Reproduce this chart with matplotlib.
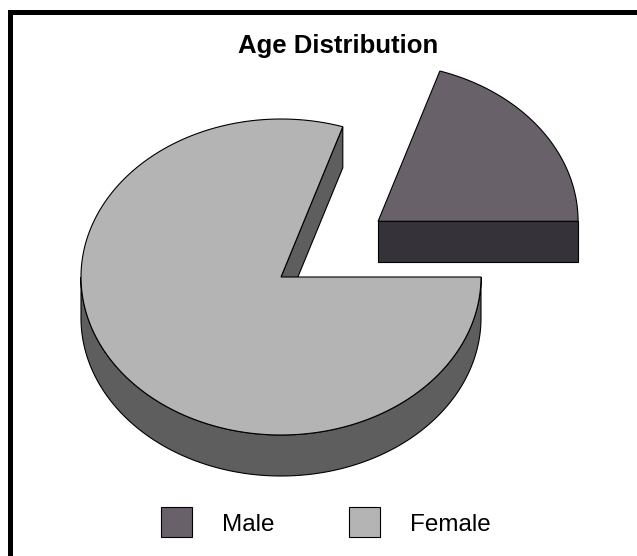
import numpy as np
import matplotlib
matplotlib.use('Agg')
import matplotlib.pyplot as plt
from matplotlib.patches import Polygon, Rectangle

title = "Age Distribution"
labels = ["Male", "Female"]
values = [20, 80]
top_colors = ["#686169", "#b4b4b4"]
side_colors = ["#35323a", "#5e5e5e"]
explode = [0.6, 0.0]

W, H = 637, 556
fig = plt.figure(figsize=(W / 100, H / 100), dpi=100)
ax = fig.add_axes([0, 0, 1, 1])
ax.set_xlim(0, W)
ax.set_ylim(H, 0)
ax.axis('off')

FONT = ['Liberation Sans', 'DejaVu Sans']

cx, cy = 281, 277
rx, ry = 200, 158
depth = 41
lw = 0.8


def pt(c, t):
    r = np.radians(t)
    return (c[0] + rx * np.cos(r), c[1] - ry * np.sin(r))


def arc(c, t0, t1, n=200):
    ts = np.linspace(t0, t1, n)
    return [pt(c, t) for t in ts]


total = float(sum(values))
bounds = np.concatenate([[0], np.cumsum(values) / total * 360.0])

walls = []
tops = []
for i, (v, e) in enumerate(zip(values, explode)):
    a0, a1 = bounds[i], bounds[i + 1]
    mid = np.radians((a0 + a1) / 2)
    c = (cx + e * rx * np.cos(mid), cy - e * ry * np.sin(mid))
    cd = (c[0], c[1] + depth)
    # radial wall at start angle (outward normal a0-90)
    if np.sin(np.radians(a0 - 90)) < -1e-9:
        p = pt(c, a0)
        walls.append(([c, p, (p[0], p[1] + depth), cd], side_colors[i]))
    # radial wall at end angle (outward normal a1+90)
    if np.sin(np.radians(a1 + 90)) < -1e-9:
        p = pt(c, a1)
        walls.append(([c, p, (p[0], p[1] + depth), cd], side_colors[i]))
    # outer rim, visible front part
    lo, hi = max(a0, 180.0), min(a1, 360.0)
    if lo < hi:
        upper = arc(c, lo, hi)
        lower = [(x, y + depth) for x, y in upper[::-1]]
        walls.append((upper + lower, side_colors[i]))
    tops.append(([c] + arc(c, a0, a1), top_colors[i]))

for poly, col in walls:
    ax.add_patch(Polygon(poly, closed=True, facecolor=col, edgecolor='black',
                         linewidth=lw, joinstyle='miter'))
for poly, col in tops:
    ax.add_patch(Polygon(poly, closed=True, facecolor=col, edgecolor='black',
                         linewidth=lw, joinstyle='miter'))

# title
ax.text(338, 53, title, ha='center', va='baseline', fontsize=18.5,
        fontweight='bold', family=FONT)

# legend
leg_x = [161, 349]
for i, lab in enumerate(labels):
    ax.add_patch(Rectangle((leg_x[i], 507), 31, 30, facecolor=top_colors[i],
                           edgecolor='black', linewidth=0.8))
    ax.text(leg_x[i] + 61, 531, lab, ha='left', va='baseline', fontsize=17.5,
            family=FONT)

# frame (top and left visible)
ax.plot([9.5, 9.5, W + 5], [H + 5, 12, 12], color='black', linewidth=3.6,
        solid_joinstyle='miter', clip_on=False)

fig.savefig('out.png', dpi=100)
